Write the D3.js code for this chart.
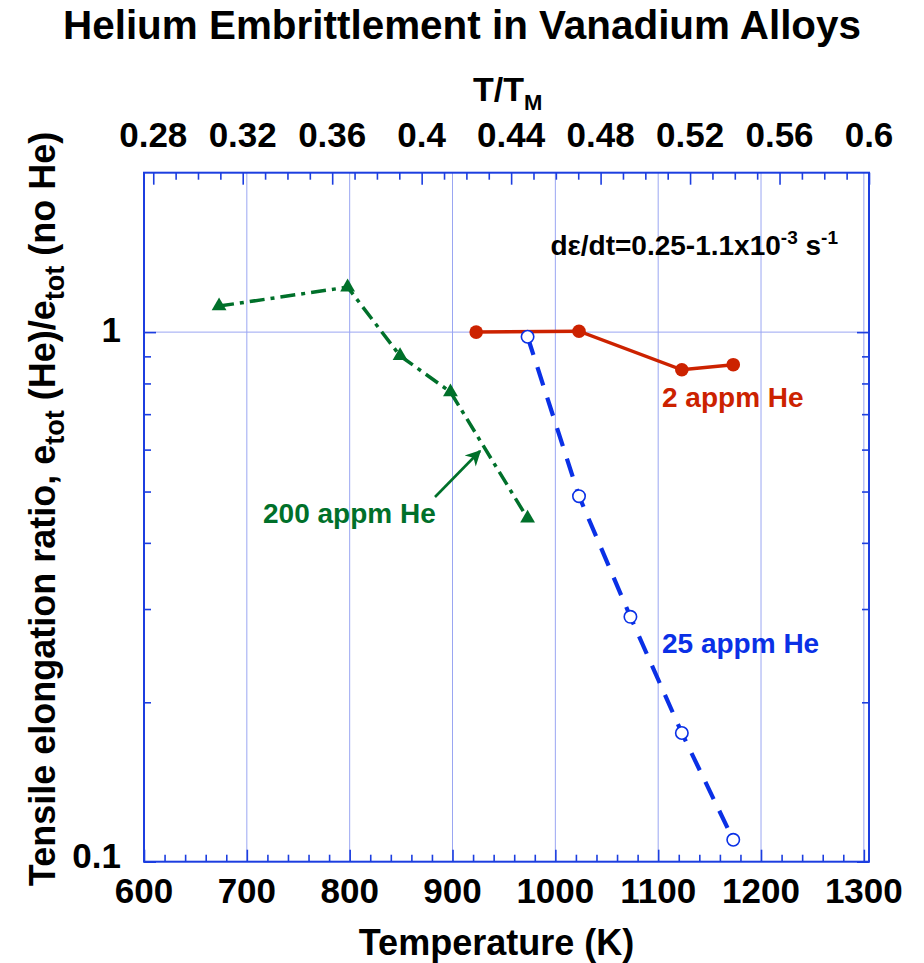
<!DOCTYPE html>
<html>
<head>
<meta charset="utf-8">
<script src="https://cdn.jsdelivr.net/npm/d3@7"></script>
<style>
  body { margin: 0; background: #ffffff; }
  svg text { font-family: "Liberation Sans", Arial, Helvetica, sans-serif; font-weight: bold; }
</style>
</head>
<body>
<svg id="chart" width="924" height="963"></svg>
<script>
// ---- data ----
const temp200 = [673, 798, 849, 898, 973];
const ratio200 = [1.12, 1.216, 0.902, 0.771, 0.445];

const temp2 = [923, 1023, 1123, 1173];
const ratio2 = [1.0, 1.004, 0.849, 0.868];

const temp25 = [973, 1023, 1073, 1123, 1173];
const ratio25 = [0.98, 0.49, 0.29, 0.175, 0.11];

const tempTicks = [600, 700, 800, 900, 1000, 1100, 1200, 1300];
const homologousTicks = [0.28, 0.32, 0.36, 0.4, 0.44, 0.48, 0.52, 0.56, 0.6];
const ratioTicks = [0.1, 1];
const ratioMinorTicks = [0.2, 0.3, 0.4, 0.5, 0.6, 0.7, 0.8, 0.9];
const meltingPointK = 2175; // vanadium, sets the T/TM axis

// ---- colours ----
const axisBlue = "#1c3ee0";
const gridBlue = "#9aa6f2";
const red = "#cc2200";
const green = "#00702a";
const blue = "#0a30e6";

// ---- layout ----
const plotLeft = 144, plotRight = 869, plotTop = 172.7, plotBottom = 861.7;

const svg = d3.select("#chart");

const x = d3.scaleLinear().domain([600, 1305]).range([plotLeft, plotRight]);
const xTop = d3.scaleLinear().domain([600 / meltingPointK, 1305 / meltingPointK]).range([plotLeft, plotRight]);
const y = d3.scaleLog().domain([0.1, 2]).range([plotBottom, plotTop]);

// grid
const grid = svg.append("g").attr("stroke", gridBlue).attr("stroke-width", 1);
grid.selectAll("line.v").data(tempTicks.filter(t => t > 600)).join("line")
  .attr("x1", d => x(d)).attr("x2", d => x(d)).attr("y1", plotTop).attr("y2", plotBottom);
grid.append("line").attr("x1", plotLeft).attr("x2", plotRight).attr("y1", y(1)).attr("y2", y(1));

// axes (ticks pointing inward)
function styleAxis(g) {
  g.select(".domain").remove();
  g.selectAll(".tick line").attr("stroke", axisBlue).attr("stroke-width", 1.6);
  g.selectAll(".tick text").remove();
}
const xMinor = d3.range(600, 1301, 20).filter(v => v % 100 !== 0);
const topMinor = d3.range(28, 61).map(v => v / 100).filter(v => Math.round(v * 100) % 4 !== 0);

svg.append("g").attr("transform", `translate(0,${plotBottom})`)
  .call(d3.axisTop(x).tickValues(tempTicks).tickSize(12)).call(styleAxis);
svg.append("g").attr("transform", `translate(0,${plotBottom})`)
  .call(d3.axisTop(x).tickValues(xMinor).tickSize(7)).call(styleAxis);
svg.append("g").attr("transform", `translate(0,${plotTop})`)
  .call(d3.axisBottom(xTop).tickValues(homologousTicks).tickSize(12)).call(styleAxis);
svg.append("g").attr("transform", `translate(0,${plotTop})`)
  .call(d3.axisBottom(xTop).tickValues(topMinor).tickSize(7)).call(styleAxis);
svg.append("g").attr("transform", `translate(${plotLeft},0)`)
  .call(d3.axisRight(y).tickValues(ratioTicks).tickSize(12)).call(styleAxis);
svg.append("g").attr("transform", `translate(${plotLeft},0)`)
  .call(d3.axisRight(y).tickValues(ratioMinorTicks).tickSize(7)).call(styleAxis);
svg.append("g").attr("transform", `translate(${plotRight},0)`)
  .call(d3.axisLeft(y).tickValues(ratioTicks).tickSize(12)).call(styleAxis);
svg.append("g").attr("transform", `translate(${plotRight},0)`)
  .call(d3.axisLeft(y).tickValues(ratioMinorTicks).tickSize(7)).call(styleAxis);

// frame
svg.append("rect").attr("x", plotLeft).attr("y", plotTop)
  .attr("width", plotRight - plotLeft).attr("height", plotBottom - plotTop)
  .attr("fill", "none").attr("stroke", axisBlue).attr("stroke-width", 2);

// tick labels
svg.append("g").selectAll("text").data(tempTicks).join("text")
  .attr("x", d => x(d)).attr("y", plotBottom + 41)
  .attr("text-anchor", "middle").attr("font-size", 35).text(d => d);
svg.append("g").selectAll("text").data(homologousTicks).join("text")
  .attr("x", d => xTop(d)).attr("y", plotTop - 26)
  .attr("text-anchor", "middle").attr("font-size", 35).text(d => d);
svg.append("g").selectAll("text").data(ratioTicks).join("text")
  .attr("x", plotLeft - 23).attr("y", d => y(d) + (d === 1 ? 10 : 6))
  .attr("text-anchor", "end").attr("font-size", 35).text(d => d);

// titles
svg.append("text").attr("x", 462).attr("y", 39).attr("text-anchor", "middle")
  .attr("font-size", 41).attr("textLength", 798).attr("lengthAdjust", "spacingAndGlyphs")
  .style("font-family", '"Liberation Sans Narrow", "Liberation Sans", Arial, sans-serif')
  .text("Helium Embrittlement in Vanadium Alloys");

const topTitle = svg.append("text").attr("x", 473).attr("y", 101).attr("font-size", 34);
topTitle.append("tspan").text("T/T");
topTitle.append("tspan").attr("font-size", 22).attr("dy", 9).text("M");

svg.append("text").attr("x", (plotLeft + plotRight) / 2 - 10).attr("y", 955)
  .attr("text-anchor", "middle").attr("font-size", 36).text("Temperature (K)");

const yTitle = svg.append("text")
  .attr("transform", "translate(55,509) rotate(-90)")
  .attr("text-anchor", "middle").attr("font-size", 36);
yTitle.append("tspan").text("Tensile elongation ratio, e");
yTitle.append("tspan").attr("font-size", 27).attr("dy", 9).text("tot");
yTitle.append("tspan").attr("dy", -9).text(" (He)/e");
yTitle.append("tspan").attr("font-size", 27).attr("dy", 9).text("tot");
yTitle.append("tspan").attr("dy", -9).text(" (no He)");

const rate = svg.append("text").attr("x", 838).attr("y", 255).attr("text-anchor", "end").attr("font-size", 28);
rate.append("tspan").text("d\u03B5/dt=0.25-1.1x10");
rate.append("tspan").attr("font-size", 19).attr("dy", -11).text("-3");
rate.append("tspan").attr("dy", 11).text(" s");
rate.append("tspan").attr("font-size", 19).attr("dy", -11).text("-1");

// series
const line = d3.line().x(d => x(d[0])).y(d => y(d[1]));
const pts200 = temp200.map((t, i) => [t, ratio200[i]]);
const pts2 = temp2.map((t, i) => [t, ratio2[i]]);
const pts25 = temp25.map((t, i) => [t, ratio25[i]]);

svg.append("path").datum(pts200).attr("d", line).attr("fill", "none")
  .attr("stroke", green).attr("stroke-width", 3.5).attr("stroke-dasharray", "15,6,4,6");
svg.append("path").datum(pts2).attr("d", line).attr("fill", "none")
  .attr("stroke", red).attr("stroke-width", 3.5);
svg.append("path").datum(pts25).attr("d", line).attr("fill", "none")
  .attr("stroke", blue).attr("stroke-width", 4.2).attr("stroke-dasharray", "19,13");

svg.append("g").selectAll("path").data(pts200).join("path")
  .attr("transform", d => `translate(${x(d[0])},${y(d[1])})`)
  .attr("d", d3.symbol(d3.symbolTriangle, 95)).attr("fill", green);
svg.append("g").selectAll("circle").data(pts2).join("circle")
  .attr("cx", d => x(d[0])).attr("cy", d => y(d[1])).attr("r", 6.8).attr("fill", red);
svg.append("g").selectAll("circle").data(pts25).join("circle")
  .attr("cx", d => x(d[0])).attr("cy", d => y(d[1])).attr("r", 6.2)
  .attr("fill", "#ffffff").attr("stroke", blue).attr("stroke-width", 1.6);

// series labels
svg.append("text").attr("x", 662).attr("y", 407).attr("font-size", 28).attr("fill", red).text("2 appm He");
svg.append("text").attr("x", 662).attr("y", 653).attr("font-size", 28).attr("fill", blue).text("25 appm He");
svg.append("text").attr("x", 263).attr("y", 523).attr("font-size", 28).attr("fill", green).text("200 appm He");

// arrow pointing at the 200 appm curve
svg.append("defs").append("marker").attr("id", "head").attr("viewBox", "0 0 10 10")
  .attr("refX", 9).attr("refY", 5).attr("markerWidth", 7).attr("markerHeight", 6)
  .attr("orient", "auto").attr("markerUnits", "strokeWidth")
  .append("path").attr("d", "M0,0 L10,5 L0,10 L3,5 Z").attr("fill", green);
svg.append("line").attr("x1", 435).attr("y1", 497).attr("x2", 480).attr("y2", 451)
  .attr("stroke", green).attr("stroke-width", 2.6).attr("marker-end", "url(#head)");
</script>
</body>
</html>
